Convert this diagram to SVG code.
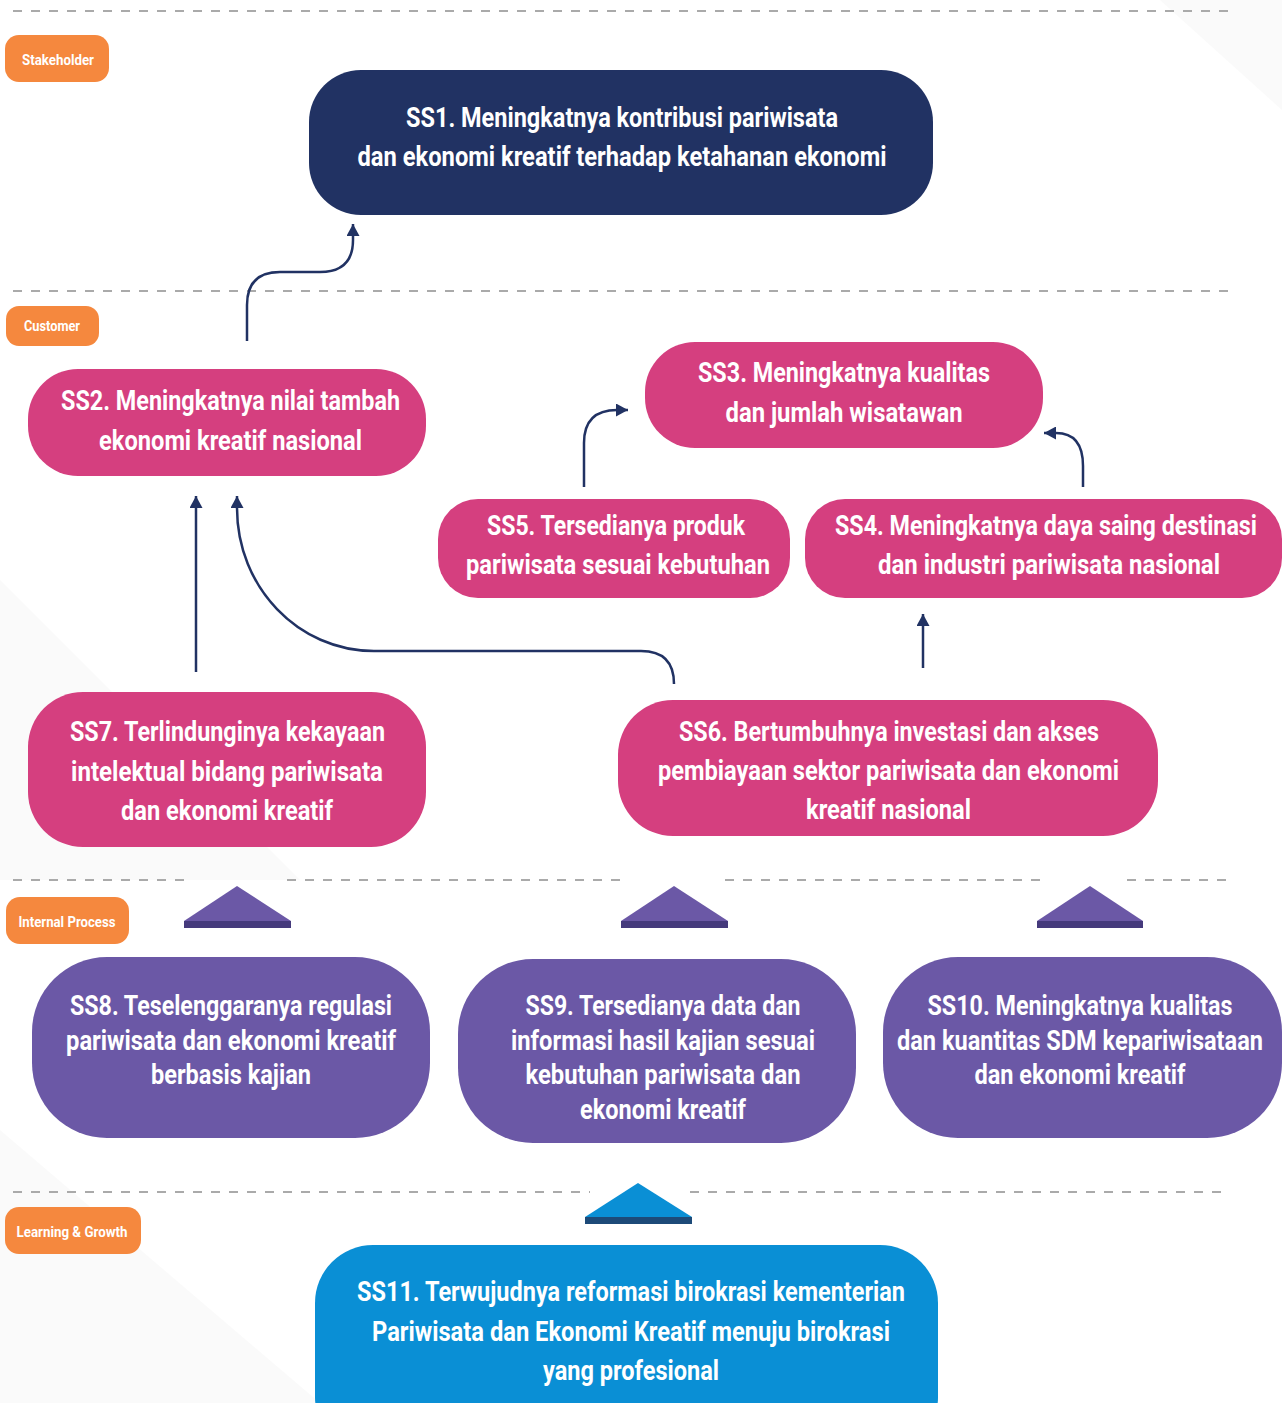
<svg xmlns="http://www.w3.org/2000/svg" width="1282" height="1403" viewBox="0 0 1282 1403">
<style>
.t{font-family:Roboto,"Liberation Sans",sans-serif;font-weight:700;fill:#fff;text-anchor:middle;font-size:28px}
.ts{font-size:22px}
.lb{font-family:Roboto,"Liberation Sans",sans-serif;font-weight:700;fill:#fff;text-anchor:middle;font-size:15px}
.dash{stroke:#aaaaaa;stroke-width:2;stroke-dasharray:9 9;fill:none}
.lab{fill:#f5883e}
.navy{fill:#213263}
.pink{fill:#d53f7f}
.purple{fill:#6b58a6}
.blue{fill:#0a8fd5}
.con{fill:none;stroke:#213263;stroke-width:2.5}
</style>
<defs>
<marker id="ah" markerUnits="userSpaceOnUse" markerWidth="13" markerHeight="13" refX="12" refY="6.5" orient="auto">
<path d="M0,0 L12,6.5 L0,13 z" fill="#213263"/>
</marker>
</defs>
<rect width="1282" height="1403" fill="#ffffff"/>
<g id="background" fill="#f6f6f6" opacity="0.6">
<polygon points="1160,0 1282,0 1282,110"/>
<polygon points="0,580 0,880 300,880"/>
<polygon points="0,1130 0,1403 320,1403"/>
</g>
<g id="lanes">
<line class="dash" x1="13" y1="11" x2="1228" y2="11"/>
<line class="dash" x1="13" y1="291" x2="1228" y2="291"/>
<line class="dash" x1="13" y1="880" x2="190" y2="880"/>
<line class="dash" x1="287" y1="880" x2="624" y2="880"/>
<line class="dash" x1="725" y1="880" x2="1046" y2="880"/>
<line class="dash" x1="1127" y1="880" x2="1228" y2="880"/>
<line class="dash" x1="13" y1="1192" x2="590" y2="1192"/>
<line class="dash" x1="690" y1="1192" x2="1228" y2="1192"/>
</g>
<g id="label-stakeholder"><rect class="lab" x="5" y="35" width="104" height="47" rx="14"/><text class="lb" x="58" y="65" textLength="72" lengthAdjust="spacingAndGlyphs">Stakeholder</text></g>
<g id="label-customer"><rect class="lab" x="6" y="306" width="93" height="40" rx="13"/><text class="lb" x="52" y="331" textLength="56" lengthAdjust="spacingAndGlyphs">Customer</text></g>
<g id="label-internal"><rect class="lab" x="6" y="897" width="123" height="47" rx="14"/><text class="lb" x="67" y="927" textLength="97" lengthAdjust="spacingAndGlyphs">Internal Process</text></g>
<g id="label-learning"><rect class="lab" x="5" y="1207" width="136" height="47" rx="14"/><text class="lb" x="72" y="1237" textLength="111" lengthAdjust="spacingAndGlyphs">Learning &amp; Growth</text></g>
<g id="connectors">
<path class="con" marker-end="url(#ah)" d="M247,341 V305 Q247,272 280,272 H320 Q353,272 353,240 V224"/>
<path class="con" marker-end="url(#ah)" d="M584,487 V443 Q584,410 617,410 H628"/>
<path class="con" marker-end="url(#ah)" d="M1083,487 V466 Q1083,433 1056,433 H1044"/>
<path class="con" marker-end="url(#ah)" d="M196,672 V496"/>
<path class="con" marker-end="url(#ah)" d="M674,684 Q674,651 641,651 H374 C298,651 237,587 237,508 V496"/>
<path class="con" marker-end="url(#ah)" d="M923,668 V614"/>
</g>
<g id="SS1"><rect class="navy" x="309" y="70" width="624" height="145" rx="52"/>
<text class="t" x="622" y="127" textLength="432" lengthAdjust="spacingAndGlyphs">SS1. Meningkatnya kontribusi pariwisata</text>
<text class="t" x="622" y="166" textLength="529" lengthAdjust="spacingAndGlyphs">dan ekonomi kreatif terhadap ketahanan ekonomi</text></g>
<g id="SS2"><rect class="pink" x="28" y="369" width="398" height="107" rx="50"/>
<text class="t" x="230.5" y="410" textLength="339" lengthAdjust="spacingAndGlyphs">SS2. Meningkatnya nilai tambah</text>
<text class="t" x="230.5" y="450" textLength="263" lengthAdjust="spacingAndGlyphs">ekonomi kreatif nasional</text></g>
<g id="SS3"><rect class="pink" x="645" y="342" width="398" height="106" rx="50"/>
<text class="t" x="844" y="382" textLength="292" lengthAdjust="spacingAndGlyphs">SS3. Meningkatnya kualitas</text>
<text class="t" x="844" y="422" textLength="237" lengthAdjust="spacingAndGlyphs">dan jumlah wisatawan</text></g>
<g id="SS5"><rect class="pink" x="438" y="499" width="352" height="99" rx="40"/>
<text class="t" x="616" y="535" textLength="258" lengthAdjust="spacingAndGlyphs">SS5. Tersedianya produk</text>
<text class="t" x="618" y="574" textLength="304" lengthAdjust="spacingAndGlyphs">pariwisata sesuai kebutuhan</text></g>
<g id="SS4"><rect class="pink" x="805" y="499" width="477" height="99" rx="40"/>
<text class="t ts" x="1046" y="535" textLength="422" lengthAdjust="spacingAndGlyphs" transform="translate(0,535) scale(1,1.2727) translate(0,-535)">SS4. Meningkatnya daya saing destinasi</text>
<text class="t" x="1049" y="574" textLength="342" lengthAdjust="spacingAndGlyphs">dan industri pariwisata nasional</text></g>
<g id="SS7"><rect class="pink" x="28" y="692" width="398" height="155" rx="55"/>
<text class="t" x="227.5" y="741" textLength="315" lengthAdjust="spacingAndGlyphs">SS7. Terlindunginya kekayaan</text>
<text class="t" x="227" y="781" textLength="312" lengthAdjust="spacingAndGlyphs">intelektual bidang pariwisata</text>
<text class="t" x="227" y="820" textLength="212" lengthAdjust="spacingAndGlyphs">dan ekonomi kreatif</text></g>
<g id="SS6"><rect class="pink" x="618" y="700" width="540" height="136" rx="55"/>
<text class="t" x="889" y="741" textLength="420" lengthAdjust="spacingAndGlyphs">SS6. Bertumbuhnya investasi dan akses</text>
<text class="t" x="888.5" y="780" textLength="461" lengthAdjust="spacingAndGlyphs">pembiayaan sektor pariwisata dan ekonomi</text>
<text class="t" x="888.5" y="819" textLength="165" lengthAdjust="spacingAndGlyphs">kreatif nasional</text></g>
<g id="arrows-internal">
<polygon class="purple" points="184,921 237,886 291,921"/><rect x="184" y="921" width="107" height="7" fill="#453a7c"/>
<polygon class="purple" points="621,921 674,886 728,921"/><rect x="621" y="921" width="107" height="7" fill="#453a7c"/>
<polygon class="purple" points="1037,921 1090,886 1143,921"/><rect x="1037" y="921" width="106" height="7" fill="#453a7c"/>
</g>
<g id="SS8"><rect class="purple" x="32" y="957" width="398" height="181" rx="75"/>
<text class="t" x="231" y="1015" textLength="322" lengthAdjust="spacingAndGlyphs">SS8. Teselenggaranya regulasi</text>
<text class="t" x="231" y="1050" textLength="330" lengthAdjust="spacingAndGlyphs">pariwisata dan ekonomi kreatif</text>
<text class="t" x="231" y="1084" textLength="160" lengthAdjust="spacingAndGlyphs">berbasis kajian</text></g>
<g id="SS9"><rect class="purple" x="458" y="959" width="398" height="184" rx="75"/>
<text class="t" x="663" y="1015" textLength="275" lengthAdjust="spacingAndGlyphs">SS9. Tersedianya data dan</text>
<text class="t" x="663" y="1050" textLength="304" lengthAdjust="spacingAndGlyphs">informasi hasil kajian sesuai</text>
<text class="t" x="663" y="1084" textLength="275" lengthAdjust="spacingAndGlyphs">kebutuhan pariwisata dan</text>
<text class="t" x="663" y="1119" textLength="166" lengthAdjust="spacingAndGlyphs">ekonomi kreatif</text></g>
<g id="SS10"><rect class="purple" x="883" y="957" width="399" height="181" rx="75"/>
<text class="t ts" x="1080" y="1015" textLength="305" lengthAdjust="spacingAndGlyphs" transform="translate(0,1015) scale(1,1.2727) translate(0,-1015)">SS10. Meningkatnya kualitas</text>
<text class="t ts" x="1080" y="1050" textLength="366" lengthAdjust="spacingAndGlyphs" transform="translate(0,1050) scale(1,1.2727) translate(0,-1050)">dan kuantitas SDM kepariwisataan</text>
<text class="t" x="1080" y="1084" textLength="211" lengthAdjust="spacingAndGlyphs">dan ekonomi kreatif</text></g>
<g id="arrow-learning">
<polygon class="blue" points="585,1217 638,1183 692,1217"/><rect x="585" y="1217" width="107" height="7" fill="#1d4a78"/>
</g>
<g id="SS11"><rect class="blue" x="315" y="1245" width="623" height="210" rx="58"/>
<text class="t" x="631" y="1301" textLength="548" lengthAdjust="spacingAndGlyphs">SS11. Terwujudnya reformasi birokrasi kementerian</text>
<text class="t" x="631" y="1341" textLength="518" lengthAdjust="spacingAndGlyphs">Pariwisata dan Ekonomi Kreatif menuju birokrasi</text>
<text class="t" x="631" y="1380" textLength="176" lengthAdjust="spacingAndGlyphs">yang profesional</text></g>
</svg>
